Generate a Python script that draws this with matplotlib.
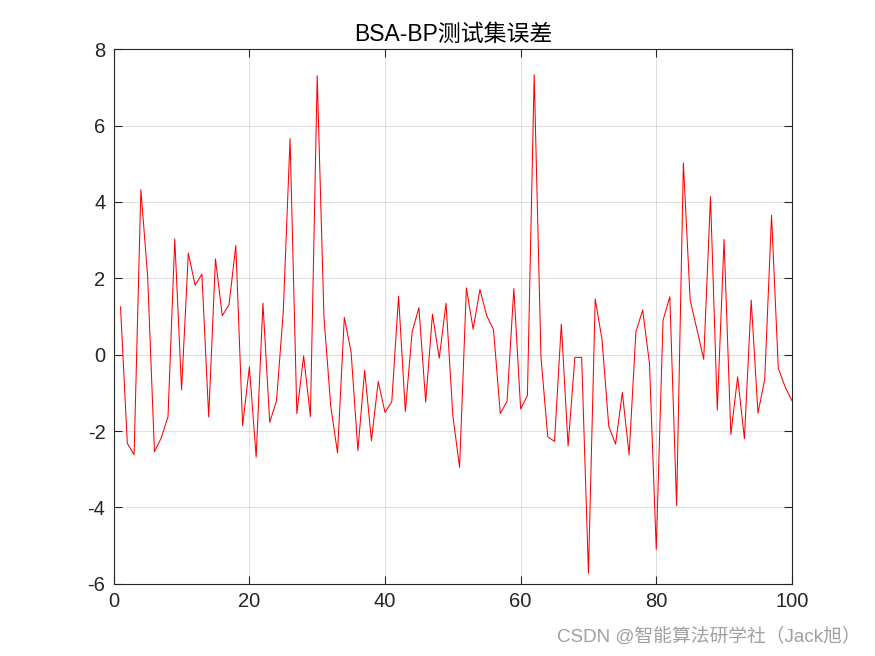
import numpy as np
import matplotlib
matplotlib.use("Agg")
import matplotlib.pyplot as plt

# test-set error of BSA-BP, one value per sample
sample_idx = np.arange(1, 101)
err = [
    1.25, -2.32, -2.62, 4.32, 2.05, -2.54, -2.18, -1.62, 3.03, -0.92,
    2.66, 1.82, 2.11, -1.63, 2.51, 1.02, 1.31, 2.86, -1.86, -0.32,
    -2.68, 1.35, -1.77, -1.21, 1.13, 5.66, -1.54, -0.03, -1.62, 7.31,
    0.98, -1.35, -2.57, 0.98, 0.07, -2.51, -0.41, -2.25, -0.70, -1.51,
    -1.23, 1.53, -1.49, 0.60, 1.23, -1.24, 1.06, -0.09, 1.35, -1.59,
    -2.95, 1.75, 0.67, 1.71, 1.02, 0.66, -1.54, -1.22, 1.73, -1.42,
    -1.07, 7.33, -0.06, -2.15, -2.27, 0.80, -2.39, -0.07, -0.07, -5.72,
    1.46, 0.40, -1.88, -2.34, -0.99, -2.62, 0.60, 1.17, -0.23, -5.10,
    0.90, 1.52, -3.95, 5.02, 1.43, 0.66, -0.12, 4.14, -1.45, 3.02,
    -2.09, -0.58, -2.20, 1.43, -1.53, -0.64, 3.65, -0.36, -0.84, -1.20,
]

xticks = [0, 20, 40, 60, 80, 100]
yticks = [-6, -4, -2, 0, 2, 4, 6, 8]

fam = ['Liberation Sans', 'Noto Sans CJK SC', 'DejaVu Sans']
plt.rcParams['font.family'] = fam
plt.rcParams['axes.unicode_minus'] = False
axcol = '#262626'

fig = plt.figure(figsize=(8.75, 6.56), dpi=100)
ax = fig.add_axes([0.13, 0.11, 0.775, 0.815])

ax.plot(sample_idx, err, color='red', lw=0.75)

ax.set_xlim(0, 100)
ax.set_ylim(-6, 8)
ax.set_xticks(xticks)
ax.set_yticks(yticks)
ax.grid(True, color='black', alpha=0.15, lw=0.6)
ax.tick_params(direction='in', length=6, width=0.8, colors=axcol,
               labelsize=14.5, top=True, right=True, pad=6)
for sp in ax.spines.values():
    sp.set_color(axcol)
    sp.set_linewidth(0.8)

ax.set_title('BSA-BP测试集误差', fontsize=16.5, color='black', pad=6)

fig.text(0.984, 0.022, 'CSDN @智能算法研学社（Jack旭）', ha='right', va='baseline',
         fontsize=13.5, color='#a0a0a0')

fig.savefig('out.png', dpi=100)
